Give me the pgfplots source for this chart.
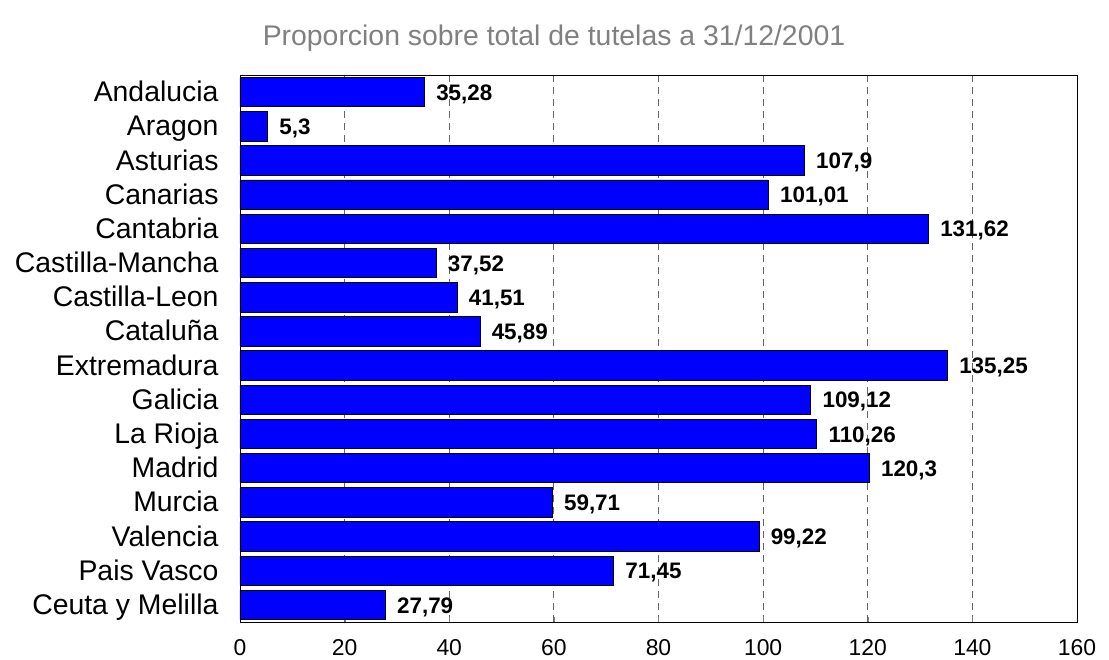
\documentclass[border=0pt]{standalone}
\usepackage{pgfplots}
\pgfplotsset{compat=1.18}
\usepackage{fontspec}
\setmainfont{Liberation Sans}
\definecolor{barblue}{RGB}{0,0,255}
\definecolor{titlegray}{RGB}{128,128,128}
\begin{document}
\begin{tikzpicture}[x=1bp,y=1bp]
\begin{axis}[
  at={(0,0)}, anchor=south west,
  scale only axis,
  width=837bp, height=547bp,
  xbar, bar width=0.86,
  xmin=0, xmax=160,
  ymin=-0.5, ymax=15.5,
  y dir=reverse,
  xtick={0,20,...,160},
  ytick={0,...,15},
  yticklabels={Andalucia,Aragon,Asturias,Canarias,Cantabria,Castilla-Mancha,Castilla-Leon,Cataluña,Extremadura,Galicia,La Rioja,Madrid,Murcia,Valencia,Pais Vasco,Ceuta y Melilla},
  ytick style={draw=none},
  xtick pos=bottom, tick align=inside,
  major tick length=5bp,
  xmajorgrids,
  grid style={dash pattern=on 7bp off 5bp, gray!80!black, line width=0.8pt},
  axis line style={black, line width=0.9pt},
  tick label style={font=\fontsize{23}{25}\selectfont},
  yticklabel style={font=\fontsize{28.5}{30}\selectfont, xshift=-18bp, yshift=-7bp,
    text height=0.72em, text depth=0.21em},
  xticklabel style={yshift=-14bp},
  /pgf/number format/assume math mode=true,
  nodes near coords,
  nodes near coords style={font=\fontsize{22.5}{24}\selectfont\bfseries, anchor=west, xshift=8bp, yshift=-2bp,
    /pgf/number format/.cd, fixed, precision=2, use comma},
]
\addplot[fill=barblue, draw=black, line width=0.8pt] coordinates {
  (35.28,0) (5.3,1) (107.9,2) (101.01,3) (131.62,4) (37.52,5) (41.51,6) (45.89,7)
  (135.25,8) (109.12,9) (110.26,10) (120.3,11) (59.71,12) (99.22,13) (71.45,14) (27.79,15)
};
\end{axis}
\node[font=\fontsize{28.5}{30}\selectfont, text=titlegray] at (314bp,584bp) {Proporcion sobre total de tutelas a 31/12/2001};
\pgfresetboundingbox
\path (-240bp,-38bp) rectangle (869bp,622bp);
\end{tikzpicture}
\end{document}
